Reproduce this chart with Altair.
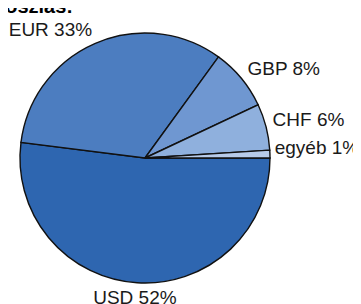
import math
import altair as alt
import pandas as pd

currencies = ["USD", "EUR", "GBP", "CHF", "egyéb"]
shares = [52, 33, 8, 6, 1]
colors = ["#2E66B0", "#4C7DC0", "#6F97D1", "#8FB0DD", "#B7CBE9"]
title_text = "Devizanem szerinti megoszlás:"

df = pd.DataFrame({
    "cur": currencies,
    "share": shares,
    "ord": list(range(len(currencies))),
    "label": [f"{c} {s}%" for c, s in zip(currencies, shares)],
})

CX, CY, R = 137, 150, 125
theta_scale = alt.Scale(domain=[0, sum(shares)], range=[math.pi / 2, math.pi / 2 + 2 * math.pi])

arc = alt.Chart(df).mark_arc(outerRadius=R, stroke="#111111", strokeWidth=1.4).encode(
    theta=alt.Theta("share:Q", stack=True, scale=theta_scale),
    order=alt.Order("ord:Q"),
    color=alt.Color("cur:N", scale=alt.Scale(domain=currencies, range=colors), legend=None),
    x=alt.value(CX),
    y=alt.value(CY),
)

# label offsets from the polar anchor (dx, dy)
offsets = {"USD": (-1, -5), "EUR": (-37, 5), "GBP": (27, 3), "CHF": (23, -2), "egyéb": (27, -5)}

layers = [arc]
for c in currencies:
    dx, dy = offsets[c]
    t = (
        alt.Chart(df)
        .transform_window(cum="sum(share)", sort=[{"field": "ord"}])
        .transform_calculate(mid="datum.cum - datum.share / 2")
        .transform_filter(alt.datum.cur == c)
        .mark_text(radius=145, dx=dx, dy=dy, align="center", baseline="middle",
                   font="Liberation Sans", fontSize=19, color="#1a1a1a")
        .encode(
            theta=alt.Theta("mid:Q", scale=theta_scale),
            text="label:N",
            x=alt.value(CX),
            y=alt.value(CY),
        )
    )
    layers.append(t)

title = alt.Chart(pd.DataFrame({"t": [title_text]})).mark_text(
    align="right", baseline="alphabetic", font="Liberation Sans", fontSize=20,
    fontWeight="bold", color="#000000"
).encode(text="t:N", x=alt.value(65), y=alt.value(5))
layers.append(title)

chart = alt.layer(*layers).properties(
    width=345, height=296, padding=0,
    autosize=alt.AutoSizeParams(type="none"),
).configure_view(stroke=None)

chart.save("out.html", embed_options={"renderer": "svg", "actions": False})
